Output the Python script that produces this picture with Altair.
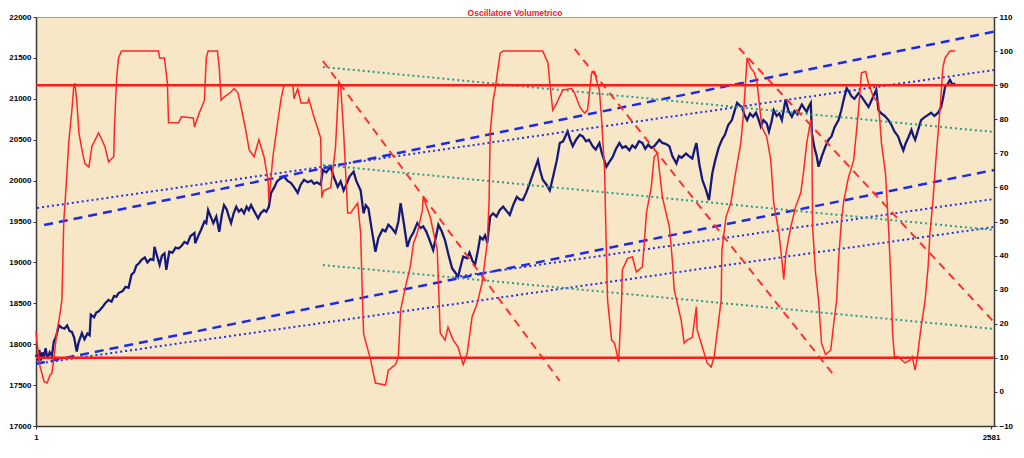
import altair as alt
import pandas as pd

# ---- price series: (bar index, value) ----
price_points = [
    (1, 17870), (6, 17820), (10, 17930), (14, 17800), (18, 17900), (22, 17840), (27, 17950), (32, 17820),
    (38, 17900), (44, 17860), (49, 18030), (55, 18090), (63, 18230), (71, 18200), (78, 18190), (85, 18230),
    (92, 18160), (98, 18150), (104, 18080), (111, 17910), (116, 18020), (125, 18135), (132, 18060), (140, 18130),
    (146, 18110), (149, 18360), (158, 18330), (164, 18390), (170, 18400), (180, 18450), (188, 18500), (197, 18540),
    (205, 18520), (212, 18590), (218, 18580), (224, 18625), (235, 18650), (243, 18700), (251, 18690), (259, 18850),
    (266, 18880), (272, 18960), (279, 18990), (286, 19030), (295, 19060), (302, 19000), (310, 19040), (318, 19030),
    (321, 19190), (328, 19080), (335, 18970), (341, 19080), (348, 19110), (353, 18910), (361, 19130), (370, 19120),
    (378, 19180), (386, 19170), (394, 19200), (402, 19250), (410, 19230), (418, 19320), (429, 19360), (431, 19235),
    (440, 19330), (447, 19400), (456, 19500), (461, 19480), (466, 19640), (473, 19560), (480, 19480), (488, 19560),
    (496, 19375), (503, 19580), (509, 19700), (516, 19650), (522, 19560), (528, 19480), (535, 19600), (542, 19680),
    (549, 19620), (556, 19650), (563, 19600), (570, 19680), (576, 19640), (582, 19700), (590, 19630), (596, 19580),
    (601, 19540), (608, 19600), (617, 19640), (623, 19620), (630, 19680), (636, 19850), (645, 19920), (652, 19990),
    (660, 20020), (671, 20050), (680, 20000), (690, 19970), (698, 19920), (708, 19850), (716, 19950), (725, 20010),
    (735, 19980), (745, 20000), (752, 19960), (760, 19980), (770, 19950), (776, 20130), (785, 20100), (797, 20170),
    (805, 20050), (816, 19925), (824, 19990), (832, 19880), (840, 19960), (848, 20050), (859, 20110), (866, 20000),
    (878, 19880), (886, 19600), (892, 19700), (899, 19660), (908, 19400), (918, 19130), (926, 19300), (937, 19400),
    (945, 19380), (953, 19460), (962, 19420), (972, 19360), (980, 19500), (986, 19725), (994, 19500), (1004, 19190),
    (1012, 19300), (1020, 19360), (1031, 19480), (1040, 19420), (1047, 19440), (1055, 19380), (1062, 19300),
    (1074, 19150), (1081, 19300), (1088, 19460), (1097, 19380), (1106, 19270), (1115, 19100), (1125, 18930),
    (1133, 18880), (1141, 18820), (1148, 18950), (1155, 19070), (1165, 19050), (1172, 19120), (1180, 19020),
    (1187, 18970), (1195, 19150), (1201, 19310), (1208, 19280), (1214, 19330), (1220, 19240), (1228, 19560),
    (1236, 19600), (1245, 19560), (1254, 19640), (1263, 19680), (1272, 19630), (1281, 19580), (1290, 19700),
    (1300, 19800), (1308, 19770), (1316, 19760), (1325, 19850), (1335, 19970), (1345, 20100), (1357, 20250),
    (1363, 20120), (1370, 20010), (1380, 19950), (1389, 19880), (1398, 20050), (1408, 20250), (1416, 20460),
    (1425, 20480), (1437, 20600), (1444, 20500), (1451, 20420), (1460, 20500), (1470, 20560), (1478, 20540),
    (1487, 20480), (1495, 20500), (1505, 20420), (1513, 20380), (1523, 20460), (1530, 20330), (1536, 20250),
    (1542, 20170), (1550, 20230), (1559, 20290), (1567, 20380), (1577, 20460), (1585, 20400), (1594, 20420),
    (1604, 20370), (1612, 20430), (1620, 20400), (1630, 20480), (1639, 20460), (1647, 20390), (1655, 20440),
    (1663, 20400), (1671, 20420), (1678, 20460), (1685, 20500), (1693, 20460), (1702, 20450), (1712, 20420),
    (1720, 20300), (1731, 20210), (1738, 20300), (1745, 20280), (1757, 20330), (1765, 20300), (1774, 20270),
    (1780, 20380), (1785, 20460), (1793, 20200), (1801, 20010), (1810, 19900), (1819, 19760), (1828, 20090),
    (1836, 20250), (1845, 20400), (1854, 20500), (1862, 20560), (1871, 20680), (1881, 20740), (1888, 20850),
    (1895, 20950), (1902, 20920), (1908, 20900), (1915, 20800), (1922, 20740), (1930, 20820), (1938, 20780),
    (1946, 20830), (1952, 20760), (1959, 20660), (1966, 20740), (1975, 20700), (1981, 20600), (1988, 20720),
    (1994, 20860), (2002, 20790), (2009, 20820), (2016, 20740), (2026, 20990), (2034, 20850), (2043, 20780),
    (2050, 20850), (2058, 20810), (2064, 20880), (2070, 20930), (2077, 20880), (2083, 20840), (2088, 20900),
    (2094, 20950), (2097, 20580), (2104, 20400), (2110, 20300), (2115, 20170), (2124, 20300), (2134, 20420),
    (2142, 20500), (2150, 20540), (2158, 20650), (2169, 20740), (2176, 20850), (2183, 20990), (2191, 21130),
    (2198, 21080), (2204, 21030), (2212, 21000), (2223, 21070), (2232, 21020), (2241, 20960), (2250, 20900),
    (2258, 20980), (2265, 21050), (2271, 21110), (2277, 20860), (2285, 20820), (2294, 20790), (2304, 20740),
    (2312, 20680), (2320, 20600), (2330, 20540), (2337, 20450), (2344, 20370), (2350, 20450), (2358, 20530),
    (2366, 20620), (2371, 20550), (2376, 20500), (2384, 20620), (2392, 20740), (2400, 20770), (2410, 20800),
    (2419, 20830), (2428, 20790), (2438, 20830), (2446, 20900), (2451, 21000), (2457, 21150), (2464, 21180),
    (2470, 21230), (2477, 21170), (2484, 21190),
]

# ---- volume oscillator series: (bar index, value) ----
osc_points = [
    (1, 17.7), (4, 14.3), (12, 7.4), (23, 3.0), (31, 2.6), (39, 5.0), (44, 5.5), (49, 9.4), (57, 17.3), (66, 23.0),
    (71, 27.0), (76, 50.0), (81, 58.0), (90, 74.0), (98, 82.7), (103, 89.5), (106, 90.6), (111, 85.6), (117, 76.0),
    (125, 71.0), (133, 67.0), (144, 66.0), (152, 72.0), (170, 76.0), (179, 74.0), (187, 72.0), (197, 67.5),
    (211, 69.0), (213, 77.7), (219, 92.4), (224, 98.0), (232, 100.0), (332, 100.0), (335, 98.0), (348, 98.0),
    (356, 90.6), (359, 79.0), (386, 79.0), (394, 80.7), (426, 80.4), (429, 77.7), (442, 81.8), (456, 85.6),
    (461, 98.0), (466, 100.0), (491, 100.0), (496, 95.3), (501, 85.6), (509, 86.5), (528, 88.0), (536, 89.0),
    (547, 87.7), (555, 83.6), (569, 76.0), (577, 71.0), (590, 69.0), (603, 74.0), (617, 69.0), (628, 62.0),
    (630, 56.0), (641, 69.0), (655, 80.0), (663, 86.0), (671, 90.0), (695, 90.0), (698, 86.0), (708, 89.0),
    (717, 84.8), (735, 84.8), (738, 86.0), (751, 81.0), (770, 74.5), (773, 57.0), (778, 59.0), (797, 60.0),
    (810, 71.6), (819, 91.0), (824, 90.0), (832, 76.3), (843, 52.5), (851, 52.5), (870, 55.4), (878, 46.6),
    (883, 27.0), (886, 17.0), (905, 9.4), (918, 2.6), (945, 2.0), (953, 6.4), (972, 8.0), (980, 10.3), (986, 24.0),
    (999, 30.8), (1012, 36.7), (1021, 43.7), (1031, 46.6), (1045, 53.4), (1047, 57.2), (1066, 51.3), (1085, 41.6),
    (1093, 17.3), (1106, 15.2), (1114, 19.0), (1128, 15.2), (1141, 13.2), (1155, 8.0), (1166, 11.4), (1179, 22.0),
    (1193, 26.0), (1206, 32.0), (1220, 43.7), (1225, 56.0), (1228, 76.0), (1236, 85.6), (1241, 88.6), (1255, 99.4),
    (1263, 100.0), (1370, 100.0), (1384, 96.5), (1389, 90.6), (1397, 82.7), (1408, 84.8), (1424, 88.6),
    (1448, 89.0), (1456, 87.7), (1470, 83.6), (1483, 81.8), (1491, 82.7), (1502, 93.6), (1510, 94.0), (1515, 91.5),
    (1523, 88.6), (1529, 79.8), (1537, 65.0), (1542, 40.0), (1545, 27.0), (1556, 15.2), (1564, 14.3), (1575, 8.8),
    (1583, 27.0), (1585, 35.8), (1599, 39.2), (1612, 39.6), (1623, 35.2), (1639, 36.6), (1645, 44.6), (1650, 52.5),
    (1663, 60.0), (1671, 69.0), (1680, 70.0), (1693, 57.2), (1712, 48.4), (1720, 38.7), (1725, 30.0), (1744, 21.0),
    (1752, 14.3), (1760, 15.2), (1774, 16.0), (1785, 25.0), (1787, 18.2), (1806, 11.4), (1814, 8.5), (1825, 7.3),
    (1833, 10.3), (1841, 17.3), (1852, 27.0), (1854, 41.6), (1865, 51.3), (1878, 55.4), (1892, 65.0), (1905, 73.0),
    (1913, 82.7), (1922, 98.0), (1932, 95.0), (1940, 94.0), (1948, 91.5), (1954, 85.6), (1962, 77.7), (1975, 74.8),
    (1986, 68.0), (1994, 55.4), (2008, 46.6), (2016, 38.7), (2021, 33.0), (2027, 40.8), (2040, 48.4), (2053, 54.3),
    (2067, 58.4), (2075, 65.0), (2083, 73.0), (2094, 79.8), (2097, 74.8), (2099, 48.4), (2107, 35.0), (2115, 27.0),
    (2123, 14.3), (2134, 11.0), (2148, 12.3), (2156, 20.0), (2164, 27.0), (2169, 38.7), (2177, 50.4), (2183, 56.0),
    (2196, 63.0), (2210, 68.0), (2223, 82.7), (2231, 93.6), (2242, 94.0), (2250, 90.6), (2263, 86.5), (2277, 84.8),
    (2285, 73.0), (2296, 64.0), (2304, 48.4), (2312, 29.0), (2315, 17.3), (2320, 10.3), (2330, 10.3), (2349, 8.5),
    (2363, 9.4), (2368, 10.3), (2376, 6.4), (2382, 10.3), (2392, 19.0), (2403, 27.0), (2411, 36.7), (2416, 46.6),
    (2424, 56.0), (2432, 68.0), (2443, 82.7), (2451, 95.3), (2457, 98.0), (2470, 100.0), (2484, 100.0),
]

# ---- oscillator thresholds ----
levels = [90, 10]

# ---- trend lines ----
trend_names = ["bd1", "bd2", "bp1", "bp2", "bp3", "g1", "g2", "g3", "r1", "r2", "r3"]
trend_style = ["blue_dash", "blue_dash", "blue_dot", "blue_dot", "blue_dot",
               "green_dot", "green_dot", "green_dot", "red_dash", "red_dash", "red_dash"]
trend_x0 = [23, 1, 4, 1133, 1, 776, 776, 776, 776, 1456, 1900]
trend_y0 = [19457, 17760, 19665, 18822, 17760, 21389, 20191, 18968, 21462, 21609, 21621]
trend_x1 = [2589, 2589, 2589, 2589, 2589, 2589, 2589, 2589, 1416, 2156, 2589]
trend_y1 = [21820, 20130, 21352, 19775, 19433, 20594, 19396, 18186, 17550, 17623, 18271]

price_df = pd.DataFrame(price_points, columns=["i", "p"])
osc_df = pd.DataFrame(osc_points, columns=["i", "o"])
lev_df = pd.DataFrame({"o": levels})
rows = []
for n, s, a, b, c, d in zip(trend_names, trend_style, trend_x0, trend_y0, trend_x1, trend_y1):
    rows.append({"line": n, "style": s, "i": a, "p": b})
    rows.append({"line": n, "style": s, "i": c, "p": d})
trend_df = pd.DataFrame(rows)

FONT = "Liberation Sans"
x_enc = alt.X("i:Q", scale=alt.Scale(domain=[1, 2589], nice=False, zero=False),
              axis=alt.Axis(values=[1, 2581], format="d", title=None, grid=False, tickSize=3,
                            labelPadding=4, labelFlush=False))
p_scale = alt.Scale(domain=[17000, 22000], nice=False, zero=False)
p_axis = alt.Axis(orient="left", values=list(range(17000, 22001, 500)), format="d", title=None,
                  grid=False, tickSize=3, labelPadding=2)
o_scale = alt.Scale(domain=[-10, 110], nice=False, zero=False)
o_axis = alt.Axis(orient="right", values=list(range(-10, 111, 10)), format="d", title=None,
                  grid=False, tickSize=3, labelPadding=2)

price_line = alt.Chart(price_df).mark_line(color="#151A7A", strokeWidth=2.3).encode(
    x=x_enc, y=alt.Y("p:Q", scale=p_scale, axis=p_axis))

styles = {
    "blue_dash": dict(color="#1E2AE8", strokeWidth=2.5, strokeDash=[9, 6]),
    "blue_dot": dict(color="#2030EE", strokeWidth=2, strokeDash=[2, 3]),
    "green_dot": dict(color="#2E9A8C", strokeWidth=2, strokeDash=[2, 3]),
    "red_dash": dict(color="#FF3030", strokeWidth=2, strokeDash=[8, 6]),
}
trend_layers = []
for sname, st in styles.items():
    trend_layers.append(
        alt.Chart(trend_df).transform_filter(alt.datum.style == sname)
        .mark_line(**st).encode(x=x_enc, y=alt.Y("p:Q", scale=p_scale, axis=p_axis), detail="line:N"))

price_group = alt.layer(price_line, *trend_layers)

osc_line = alt.Chart(osc_df).mark_line(color="#FF2626", strokeWidth=1.5).encode(
    x=x_enc, y=alt.Y("o:Q", scale=o_scale, axis=o_axis))
lev_rule = alt.Chart(lev_df).mark_rule(color="#FF1A1A", strokeWidth=2.5).encode(
    y=alt.Y("o:Q", scale=o_scale, axis=o_axis))
osc_group = alt.layer(osc_line, lev_rule)

chart = alt.layer(price_group, osc_group).resolve_scale(y="independent").properties(
    width=958, height=409,
    autosize=alt.AutoSizeParams(type="none"),
    padding={"left": 28, "top": 9, "right": 22, "bottom": 22},
    title=alt.TitleParams("Oscillatore Volumetrico", color="#E8202A", fontSize=8.5, font=FONT,
                          fontWeight="bold", anchor="middle", offset=-4),
).configure_view(fill="#F7E7C6", stroke="#9A9A9A", strokeWidth=1).configure_axis(
    labelFont=FONT, labelFontWeight="bold", labelFontSize=8, labelColor="#000000",
    domainColor="#3A3A3A", tickColor="#3A3A3A", domainWidth=1.5, tickWidth=1
)

chart.save("out.html", embed_options={"renderer": "svg", "actions": False})
